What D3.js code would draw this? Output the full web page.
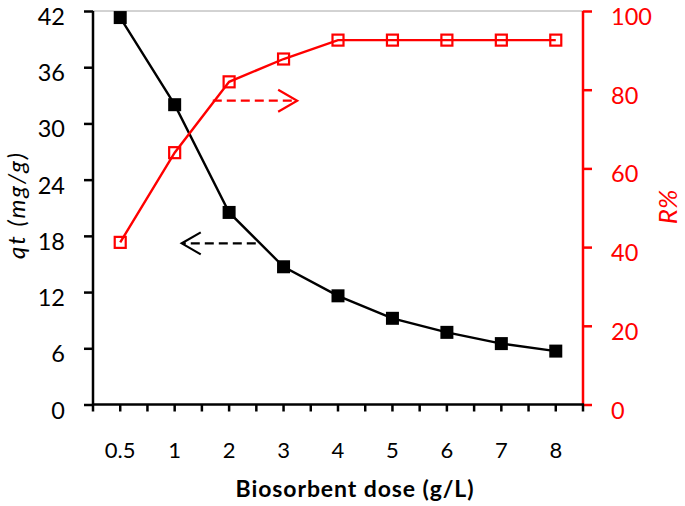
<!DOCTYPE html>
<html><head><meta charset="utf-8">
<script src="https://cdn.jsdelivr.net/npm/d3@7"></script>
<style>body{margin:0;background:#fff}svg{display:block}text{font-family:Lato,"Liberation Sans",sans-serif}</style>
</head><body><svg id="c" width="685" height="506"></svg>
<script>
const categories = ["0.5","1","2","3","4","5","6","7","8"];
const qtValues = [41.3, 32.0, 20.5, 14.7, 11.6, 9.2, 7.7, 6.5, 5.7];
const rValues = [41.2, 64.0, 82.0, 87.8, 92.6, 92.6, 92.6, 92.6, 92.6];
const leftTicks = [0, 6, 12, 18, 24, 30, 36, 42];
const rightTicks = [0, 20, 40, 60, 80, 100];

const svg = d3.select("#c");
const L = 93, R = 583, T = 11, B = 404.5;
const x = d3.scaleBand().domain(categories).range([L, R]).padding(0);
const xi = d3.scaleLinear().domain([-0.5, categories.length - 0.5]).range([L, R]);
const yL = d3.scaleLinear().domain([0, 42]).range([B, T]);
const yR = d3.scaleLinear().domain([0, 100]).range([B, T]);
const cx = c => x(c) + x.bandwidth() / 2;

// top border
svg.append("line").attr("x1", L).attr("x2", R).attr("y1", T).attr("y2", T).attr("stroke", "#a6a6a6").attr("stroke-width", 1);

// left axis
const gl = svg.append("g").attr("transform", `translate(${L},0)`)
  .call(d3.axisLeft(yL).tickValues(leftTicks).tickSize(9).tickPadding(19).tickFormat(d3.format("d")));
gl.select(".domain").attr("stroke", "#000").attr("stroke-width", 2.5).attr("d", `M0,${B}V${T}`);
gl.selectAll(".tick line").attr("stroke", "#000").attr("stroke-width", 2.5);
gl.selectAll(".tick text").attr("fill", "#000").attr("dy", 13.5).style("font-size", "23.5px").style("font-family", "Lato");

// right axis
const gr = svg.append("g").attr("transform", `translate(${R},0)`)
  .call(d3.axisRight(yR).tickValues(rightTicks).tickSize(9).tickPadding(19));
gr.select(".domain").attr("stroke", "#ff0000").attr("stroke-width", 2.5).attr("d", `M0,${B}V${T}`);
gr.selectAll(".tick line").attr("stroke", "#ff0000").attr("stroke-width", 2.5);
gr.selectAll(".tick text").attr("fill", "#ff0000").attr("dy", 13.5).style("font-size", "23.5px").style("font-family", "Lato");

// bottom axis: ticks at band edges and centres
const tickPos = d3.range(0, categories.length * 2 + 1).map(i => xi(-0.5 + i / 2));
const gb = svg.append("g");
gb.append("line").attr("x1", L - 1).attr("x2", R + 1).attr("y1", B).attr("y2", B).attr("stroke", "#000").attr("stroke-width", 2.5);
gb.selectAll("line.t").data(tickPos).join("line").attr("class", "t")
  .attr("x1", d => d).attr("x2", d => d).attr("y1", B).attr("y2", B + 7).attr("stroke", "#000").attr("stroke-width", 2.5);
gb.selectAll("text").data(categories).join("text")
  .attr("x", d => cx(d)).attr("y", 458).attr("text-anchor", "middle")
  .style("font-size", "22px").attr("fill", "#000").text(d => d);

// titles
svg.append("text").attr("x", 355).attr("y", 497).attr("text-anchor", "middle")
  .style("font-size", "23px").style("font-weight", "bold").style("letter-spacing", "0.9px").text("Biosorbent dose (g/L)");
svg.append("text").attr("transform", "translate(25,205) rotate(-90)").attr("text-anchor", "middle")
  .style("font-size", "24px").style("font-style", "italic").style("letter-spacing", "2px").text("qt (mg/g)");
svg.append("text").attr("transform", "translate(677,207) rotate(-90)").attr("text-anchor", "middle")
  .style("font-size", "26px").style("font-style", "italic").attr("fill", "#ff0000").text("R%");

// black series
const lineL = d3.line().x((d, i) => cx(categories[i])).y(d => yL(d));
svg.append("path").datum(qtValues).attr("d", lineL).attr("fill", "none").attr("stroke", "#000").attr("stroke-width", 2.4);
svg.selectAll("rect.q").data(qtValues).join("rect").attr("class", "q")
  .attr("x", (d, i) => cx(categories[i]) - 6.5).attr("y", d => yL(d) - 6.5)
  .attr("width", 13).attr("height", 13).attr("fill", "#000");

// red series
const lineR = d3.line().x((d, i) => cx(categories[i])).y(d => yR(d));
svg.append("path").datum(rValues).attr("d", lineR).attr("fill", "none").attr("stroke", "#ff0000").attr("stroke-width", 2.4);
svg.selectAll("rect.r").data(rValues).join("rect").attr("class", "r")
  .attr("x", (d, i) => cx(categories[i]) - 5.5).attr("y", d => yR(d) - 5.5)
  .attr("width", 11).attr("height", 11).attr("fill", "none").attr("stroke", "#ff0000").attr("stroke-width", 2.2);

// annotation arrows
function arrow(x1, x2, y, color) {
  const dir = Math.sign(x2 - x1);
  svg.append("line").attr("x1", x1).attr("x2", x2 - dir * 2).attr("y1", y).attr("y2", y)
    .attr("stroke", color).attr("stroke-width", 2.2).attr("stroke-dasharray", "9,5");
  svg.append("path").attr("d", `M${x2 - dir * 19},${y - 11}L${x2},${y}L${x2 - dir * 19},${y + 11}`)
    .attr("fill", "none").attr("stroke", color).attr("stroke-width", 2.2);
}
arrow(xi(1.70), xi(3.25), yR(77.2), "#ff0000");
arrow(xi(2.49), xi(1.13), yL(17.2), "#000");
</script></body></html>
